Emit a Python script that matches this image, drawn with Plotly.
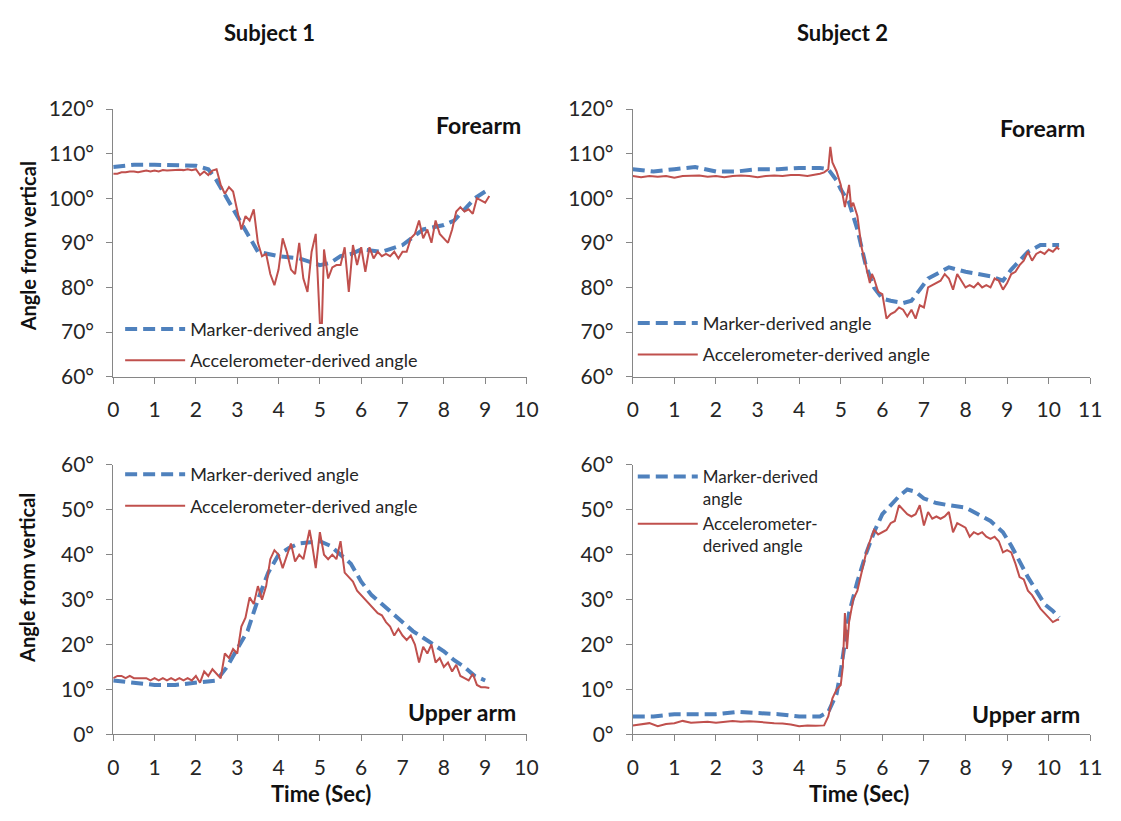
import plotly.graph_objects as go

# ---------------- data ----------------
# Subject 1 forearm
s1f_mk_t = [0, 0.5, 1, 1.5, 2, 2.3, 2.5, 2.75, 3, 3.25, 3.5, 3.75, 4, 4.5, 5, 5.25, 5.5, 5.75, 6, 6.5, 7, 7.5, 8, 8.25, 8.5, 8.75, 9]
s1f_mk_v = [107, 107.5, 107.5, 107.5, 107.3, 106.5, 104, 100, 96, 92, 88, 87.5, 87, 86.5, 85, 85.5, 87, 87.5, 88.5, 88, 89.5, 93, 94, 95, 97.5, 100, 101.5]
s1f_ac_t = [0.0, 0.1, 0.2, 0.3, 0.4, 0.5, 0.6, 0.7, 0.8, 0.9, 1.0, 1.1, 1.2, 1.3, 1.4, 1.5, 1.6, 1.7, 1.8, 1.9,
            2.0, 2.1, 2.2, 2.3, 2.4, 2.5, 2.6, 2.7, 2.8, 2.9, 3.0, 3.1, 3.2, 3.3, 3.4, 3.5, 3.6, 3.7, 3.8, 3.9,
            4.0, 4.1, 4.2, 4.3, 4.4, 4.5, 4.6, 4.7, 4.8, 4.9, 5.0, 5.05, 5.1, 5.2, 5.3, 5.4, 5.5, 5.6, 5.7, 5.8, 5.9,
            6.0, 6.1, 6.2, 6.3, 6.4, 6.5, 6.6, 6.7, 6.8, 6.9, 7.0, 7.1, 7.2, 7.3, 7.4, 7.5, 7.6, 7.7, 7.8, 7.9,
            8.0, 8.1, 8.2, 8.3, 8.4, 8.5, 8.6, 8.7, 8.8, 8.9, 9.0, 9.1]
s1f_ac_v = [105.5, 105.5, 105.8, 105.8, 106, 106, 105.8, 106, 106.2, 106, 106.2, 106, 106.3, 106.2, 106.3, 106.3, 106.4, 106.3, 106.5, 106.3,
            106.5, 105.2, 106, 105.2, 106.2, 106.5, 103, 101, 102.5, 101.5, 97, 93, 96, 95, 97.5, 90, 87, 87.5, 83, 80.5,
            84, 91, 88, 84, 83, 90, 82, 79, 88, 92, 72, 72, 88.5, 82, 84.5, 85, 85, 89, 79, 89.5, 85,
            89, 83.5, 89, 86.5, 88, 87, 87.5, 87, 88, 86.5, 88, 88, 91, 92, 95, 91, 93, 90, 95, 92,
            91, 90, 93, 97, 98, 97, 97.5, 96.5, 100, 99.5, 99, 100.5]

# Subject 2 forearm
s2f_mk_t = [0, 0.5, 1, 1.5, 2, 2.5, 3, 3.5, 4, 4.5, 4.7, 4.9, 5.0, 5.2, 5.4, 5.6, 5.8, 6.0, 6.2, 6.5, 6.7, 6.9, 7.1, 7.4, 7.6, 7.8, 8.0, 8.3, 8.6, 8.9, 9.1, 9.3, 9.5, 9.8, 10.0, 10.25]
s2f_mk_v = [106.5, 106, 106.5, 107, 106, 106, 106.5, 106.5, 106.8, 106.8, 106.5, 104, 102, 99, 93, 85, 80, 77.5, 77, 76.5, 77, 79.5, 82, 83.5, 84.5, 84, 83.5, 83, 82.5, 81.5, 84, 86, 88, 89.5, 89.5, 89.5]
s2f_ac_t = [0.0, 0.2, 0.4, 0.6, 0.8, 1.0, 1.2, 1.4, 1.6, 1.8, 2.0, 2.2, 2.4, 2.6, 2.8, 3.0, 3.2, 3.4, 3.6, 3.8,
            4.0, 4.2, 4.4, 4.5, 4.6, 4.7, 4.75, 4.8, 4.9, 5.0, 5.1, 5.2, 5.25, 5.3, 5.4, 5.5, 5.6, 5.7, 5.75, 5.8, 5.9,
            6.0, 6.1, 6.2, 6.3, 6.4, 6.5, 6.6, 6.7, 6.8, 6.9, 7.0, 7.1, 7.2, 7.3, 7.4, 7.5, 7.6, 7.7, 7.8, 7.9,
            8.0, 8.1, 8.2, 8.3, 8.4, 8.5, 8.6, 8.7, 8.8, 8.9, 9.0, 9.1, 9.2, 9.3, 9.4, 9.5, 9.6, 9.7, 9.8, 9.9,
            10.0, 10.1, 10.2, 10.25]
s2f_ac_v = [105, 104.7, 105, 104.8, 105, 104.6, 105, 105, 105.1, 104.8, 105, 104.7, 105, 105.1, 105, 104.7, 105, 105.1, 105, 105.2,
            105.2, 105, 105.3, 105.5, 105.8, 106.5, 111.5, 108, 106, 103, 98, 103, 98, 99, 96, 89, 85, 81, 83, 82, 79,
            78.5, 73, 74, 74.5, 75.5, 75, 73.5, 75, 73, 76, 75.5, 80, 80.5, 81, 81.5, 83, 82, 79.5, 83, 81.5,
            80, 80.5, 80, 81, 80, 80.5, 80, 82, 81.5, 79.5, 81, 83, 83.5, 85, 86, 88, 86, 87.5, 88, 87.5,
            88.5, 88, 89, 88.5]

# Subject 1 upper arm
s1u_mk_t = [0, 0.5, 1, 1.5, 2, 2.5, 2.75, 3, 3.25, 3.5, 3.75, 4, 4.25, 4.5, 5, 5.25, 5.5, 5.75, 6, 6.25, 6.5, 6.75, 7, 7.25, 7.5, 7.75, 8, 8.25, 8.5, 8.75, 9]
s1u_mk_v = [12, 11.5, 11, 11, 11.5, 12, 15, 19, 23, 30, 36, 40, 41.5, 42.5, 43, 42, 40, 38, 34, 31, 29, 27, 25, 23, 21.5, 20, 18.5, 16.5, 15, 13, 12]
s1u_ac_t = [0.0, 0.1, 0.2, 0.3, 0.4, 0.5, 0.6, 0.7, 0.8, 0.9, 1.0, 1.1, 1.2, 1.3, 1.4, 1.5, 1.6, 1.7, 1.8, 1.9,
            2.0, 2.1, 2.2, 2.3, 2.4, 2.5, 2.6, 2.7, 2.8, 2.9, 3.0, 3.1, 3.2, 3.3, 3.4, 3.5, 3.6, 3.7, 3.8, 3.9,
            4.0, 4.1, 4.2, 4.3, 4.4, 4.5, 4.6, 4.7, 4.75, 4.8, 4.9, 5.0, 5.1, 5.2, 5.3, 5.4, 5.5, 5.6, 5.7, 5.8, 5.9,
            6.0, 6.1, 6.2, 6.3, 6.4, 6.5, 6.6, 6.7, 6.8, 6.9, 7.0, 7.1, 7.2, 7.3, 7.4, 7.5, 7.6, 7.7, 7.8, 7.9,
            8.0, 8.1, 8.2, 8.3, 8.4, 8.5, 8.6, 8.7, 8.8, 8.9, 9.0, 9.1]
s1u_ac_v = [12.5, 13, 13, 12.5, 13, 12.5, 12.5, 12.5, 12.5, 12, 12.5, 12, 12.5, 12, 12.5, 12, 12.5, 12, 12.5, 12,
            13, 11.5, 14, 13, 14.5, 13.5, 12.5, 18, 17, 19, 18, 24, 26, 30.5, 29, 33, 30, 33, 39, 41,
            40, 37, 40, 42.5, 38.5, 40, 39, 43, 45.5, 43, 37, 45, 40, 39, 40, 39, 43, 36, 35, 34, 32,
            31, 30, 29, 28, 27, 26.5, 25, 24, 22, 23.5, 22, 21, 22, 20, 16, 19.5, 18, 20, 16, 17,
            15, 16, 14, 15.5, 13, 12.5, 12, 13.5, 11, 10.5, 10.5, 10.3]

# Subject 2 upper arm
s2u_mk_t = [0, 0.5, 1, 1.5, 2, 2.5, 3, 3.5, 4, 4.5, 4.7, 4.9, 5.0, 5.1, 5.2, 5.4, 5.6, 5.8, 6.0, 6.2, 6.4, 6.6, 6.8, 7.0, 7.3, 7.6, 8.0, 8.3, 8.6, 8.9, 9.1, 9.3, 9.5, 9.7, 9.9, 10.1, 10.25]
s2u_mk_v = [4, 4, 4.5, 4.5, 4.5, 5, 4.8, 4.5, 4, 4, 5, 9, 14, 20, 27, 34, 40, 45, 49, 51, 53, 54.5, 54, 52.5, 51.5, 51, 50.5, 49, 47.5, 45, 42, 38.5, 35, 32, 29, 27.5, 26]
s2u_ac_t = [0.0, 0.2, 0.4, 0.6, 0.8, 1.0, 1.2, 1.4, 1.6, 1.8, 2.0, 2.2, 2.4, 2.6, 2.8, 3.0, 3.2, 3.4, 3.6, 3.8,
            4.0, 4.2, 4.4, 4.6, 4.7, 4.8, 4.9, 5.0, 5.05, 5.1, 5.15, 5.2, 5.3, 5.4, 5.5, 5.6, 5.7, 5.8, 5.9,
            6.0, 6.1, 6.2, 6.3, 6.4, 6.5, 6.6, 6.7, 6.8, 6.9, 7.0, 7.1, 7.2, 7.3, 7.4, 7.5, 7.6, 7.7, 7.8, 7.9,
            8.0, 8.1, 8.2, 8.3, 8.4, 8.5, 8.6, 8.7, 8.8, 8.9, 9.0, 9.1, 9.2, 9.3, 9.4, 9.5, 9.6, 9.7, 9.8, 9.9,
            10.0, 10.1, 10.2, 10.25]
s2u_ac_v = [2, 2.2, 2.5, 1.8, 2.3, 2.5, 3, 2.6, 2.7, 2.8, 2.6, 2.8, 3, 2.8, 2.9, 2.8, 2.6, 2.5, 2.4, 2.2,
            1.8, 2, 1.9, 2, 4, 8, 10, 11, 15, 27, 19, 25, 30, 32, 36, 40, 43, 45.5, 44.5,
            45, 45.5, 47, 47.5, 51, 50, 49, 48.5, 49, 51, 46.5, 49.5, 48, 48.5, 48, 48.5, 49.5, 45, 47, 46.5,
            46, 44, 45, 44.5, 45, 44, 43.5, 44, 43, 40.5, 41, 40.5, 38, 35, 34.5, 32, 31, 29.5, 28, 27,
            26, 25, 25.5, 25.5]

x_tick_s1 = list(range(0, 11))
x_tick_s2 = list(range(0, 12))
y_tick_forearm = [60, 70, 80, 90, 100, 110, 120]
y_tick_upper = [0, 10, 20, 30, 40, 50, 60]

subject_titles = ["Subject 1", "Subject 2"]
marker_name = "Marker-derived angle"
acc_name = "Accelerometer-derived angle"
marker_name_wrapped = "Marker-derived<br>angle"
acc_name_wrapped = "Accelerometer-<br>derived angle"

# ---------------- figure ----------------
W, H = 1121, 821
FONT = "Lato, 'Open Sans', sans-serif"
BLUE = "#4F81BD"
RED = "#C0504D"
AXC = "#868686"
TXT = "#262626"

def px_x(p):
    return p / W

def px_y(p):
    return 1 - p / H

fig = go.Figure()

panels = [
    ("x", "y", s1f_mk_t, s1f_mk_v, s1f_ac_t, s1f_ac_v, "legend", (marker_name, acc_name)),
    ("x2", "y2", s2f_mk_t, s2f_mk_v, s2f_ac_t, s2f_ac_v, "legend2", (marker_name, acc_name)),
    ("x3", "y3", s1u_mk_t, s1u_mk_v, s1u_ac_t, s1u_ac_v, "legend3", (marker_name, acc_name)),
    ("x4", "y4", s2u_mk_t, s2u_mk_v, s2u_ac_t, s2u_ac_v, "legend4", (marker_name_wrapped, acc_name_wrapped)),
]

for i, (xa, ya, mt, mv, at, av, lg, names) in enumerate(panels):
    fig.add_trace(go.Scatter(x=mt, y=mv, mode="lines", name=names[0], xaxis=xa, yaxis=ya,
                             line=dict(color=BLUE, width=4, dash="12px,6px"),
                             legend=lg, legendgroup=f"m{i}"))
    fig.add_trace(go.Scatter(x=at, y=av, mode="lines", name=names[1], xaxis=xa, yaxis=ya,
                             line=dict(color=RED, width=2),
                             legend=lg, legendgroup=f"a{i}"))

xdom_left = [px_x(109), px_x(529)]
xdom_right = [px_x(637), px_x(1102)]
ydom_top = [px_y(374), px_y(98)]
ydom_bot = [px_y(743), px_y(465)]

axis_common = dict(showline=True, linecolor=AXC, linewidth=1, ticks="outside", ticklen=6,
                   tickcolor=AXC, showgrid=False, zeroline=False, ticklabelstandoff=8,
                   tickfont=dict(family=FONT, size=21, color=TXT))

def deg(vals):
    return [f"{v}°" for v in vals]

fig.update_layout(
    width=W, height=H, margin=dict(l=0, r=0, t=0, b=0),
    paper_bgcolor="white", plot_bgcolor="white",
    font=dict(family=FONT, color=TXT),
    xaxis=dict(domain=xdom_left, anchor="y", range=[0, 10], tickvals=x_tick_s1, **axis_common),
    yaxis=dict(domain=ydom_top, anchor="x", range=[60, 120], tickvals=y_tick_forearm, ticktext=deg(y_tick_forearm), **axis_common),
    xaxis2=dict(domain=xdom_right, anchor="y2", range=[0, 11], tickvals=x_tick_s2, **axis_common),
    yaxis2=dict(domain=ydom_top, anchor="x2", range=[60, 120], tickvals=y_tick_forearm, ticktext=deg(y_tick_forearm), **axis_common),
    xaxis3=dict(domain=xdom_left, anchor="y3", range=[0, 10], tickvals=x_tick_s1, **axis_common),
    yaxis3=dict(domain=ydom_bot, anchor="x3", range=[0, 60], tickvals=y_tick_upper, ticktext=deg(y_tick_upper), **axis_common),
    xaxis4=dict(domain=xdom_right, anchor="y4", range=[0, 11], tickvals=x_tick_s2, **axis_common),
    yaxis4=dict(domain=ydom_bot, anchor="x4", range=[0, 60], tickvals=y_tick_upper, ticktext=deg(y_tick_upper), **axis_common),
    showlegend=True,
)

legend_common = dict(bgcolor="rgba(0,0,0,0)", xanchor="left", yanchor="top", itemwidth=60,
                     itemclick=False, itemdoubleclick=False)
fig.update_layout(
    legend=dict(x=px_x(116), y=px_y(306), tracegroupgap=5, font=dict(family=FONT, size=18, color=TXT), **legend_common),
    legend2=dict(x=px_x(637), y=px_y(300), tracegroupgap=5, font=dict(family=FONT, size=18, color=TXT), **legend_common),
    legend3=dict(x=px_x(116), y=px_y(456), tracegroupgap=5, font=dict(family=FONT, size=18, color=TXT), **legend_common),
    legend4=dict(x=px_x(637), y=px_y(459), valign="top", tracegroupgap=0, font=dict(family=FONT, size=17, color=TXT), **legend_common),
)

annotations = []
for title, xc in zip(subject_titles, (268, 850)):
    annotations.append(dict(text=f"<b>{title}</b>", x=px_x(xc), y=px_y(19), xref="paper", yref="paper",
                            xanchor="center", yanchor="middle", showarrow=False,
                            font=dict(family=FONT, size=22, color="#111")))
for yc in (240, 582):
    annotations.append(dict(text="<b>Angle from vertical</b>", x=px_x(22), y=px_y(yc), xref="paper", yref="paper",
                            xanchor="center", yanchor="middle", showarrow=False, textangle=-90,
                            font=dict(family=FONT, size=20, color="#111")))
for xc in (320, 867):
    annotations.append(dict(text="<b>Time (Sec)</b>", x=px_x(xc), y=px_y(804), xref="paper", yref="paper",
                            xanchor="center", yanchor="middle", showarrow=False,
                            font=dict(family=FONT, size=22, color="#111")))
panel_labels = [("Forearm", 525, 115), ("Forearm", 1099, 118), ("Upper arm", 520, 720), ("Upper arm", 1094, 722)]
for txt, xr, yc in panel_labels:
    annotations.append(dict(text=f"<b>{txt}</b>", x=px_x(xr), y=px_y(yc), xref="paper", yref="paper",
                            xanchor="right", yanchor="middle", showarrow=False,
                            font=dict(family=FONT, size=23, color="#111")))
fig.update_layout(annotations=annotations)

fig.write_html("out.html", config={"displayModeBar": False},
               post_script="document.body.style.margin='0';document.body.style.overflow='hidden';")
